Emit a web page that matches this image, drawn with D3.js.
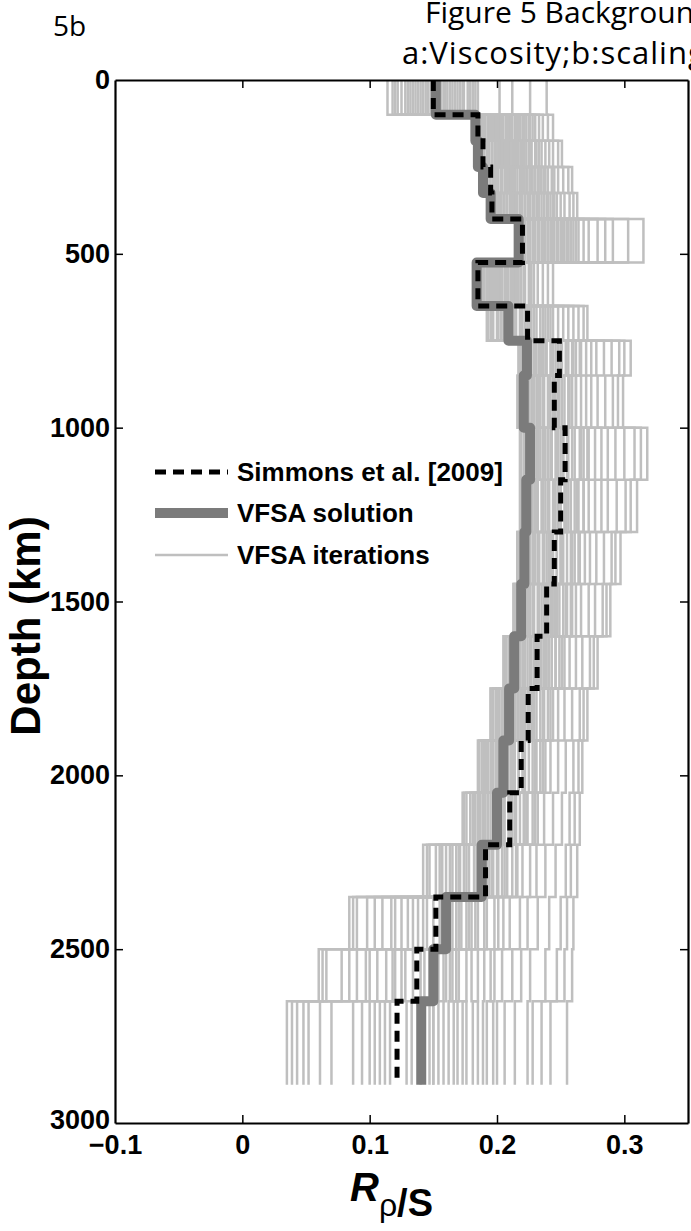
<!DOCTYPE html>
<html>
<head>
<meta charset="utf-8">
<script src="https://cdn.jsdelivr.net/npm/d3@7"></script>
<style>
  body { margin: 0; background: #fff; }
  svg { display: block; }
</style>
</head>
<body>
<div id="chart"></div>
<script>
// layer boundaries in km (22 layers)
var depthEdges = [0, 100, 175, 250, 325, 400, 525, 650, 750, 850, 1000, 1150, 1300,
                  1450, 1600, 1750, 1900, 2050, 2200, 2350, 2500, 2650, 2890];

// Simmons et al. [2009], one value per layer
var simmons = [0.150, 0.185, 0.189, 0.195, 0.196, 0.220, 0.185, 0.224, 0.249, 0.245, 0.2535,
               0.250, 0.245, 0.239, 0.2315, 0.2245, 0.219, 0.210, 0.191, 0.152, 0.137, 0.1215];

// VFSA solution
var vfsaSolution = [0.152, 0.183, 0.185, 0.189, 0.195, 0.217, 0.184, 0.209, 0.2235, 0.221, 0.226,
                    0.223, 0.2215, 0.219, 0.2135, 0.2095, 0.205, 0.200, 0.188, 0.160, 0.150, 0.1405];

// VFSA iterations: row = layer, column = iteration
var vfsaIterations = [
  [0.152,0.122,0.185,0.140,0.165,0.226,0.132,0.174,0.148,0.118,0.202,0.161,0.136,0.179,0.156,0.144,0.239,0.169,0.128,0.177,0.114,0.163,0.212,0.138,0.181,0.153,0.146,0.171,0.158,0.167,0.125,0.142,0.150,0.159,0.134,0.173,0.120,0.155,0.183,0.130],
  [0.205,0.191,0.230,0.198,0.214,0.244,0.188,0.220,0.202,0.195,0.236,0.210,0.193,0.226,0.207,0.199,0.240,0.217,0.190,0.223,0.187,0.212,0.233,0.196,0.228,0.203,0.200,0.218,0.209,0.215,0.194,0.201,0.208,0.216,0.221,0.197,0.204,0.211,0.189,0.225],
  [0.210,0.194,0.238,0.203,0.220,0.251,0.190,0.227,0.207,0.199,0.244,0.215,0.196,0.233,0.212,0.204,0.248,0.223,0.192,0.230,0.189,0.217,0.241,0.201,0.235,0.209,0.205,0.225,0.213,0.219,0.198,0.206,0.214,0.221,0.227,0.202,0.208,0.216,0.193,0.231],
  [0.216,0.199,0.245,0.208,0.226,0.259,0.195,0.234,0.212,0.204,0.252,0.221,0.201,0.240,0.218,0.210,0.256,0.230,0.197,0.237,0.194,0.223,0.248,0.206,0.243,0.214,0.209,0.232,0.219,0.227,0.203,0.211,0.220,0.228,0.235,0.207,0.213,0.224,0.198,0.238],
  [0.220,0.203,0.250,0.212,0.231,0.263,0.199,0.239,0.216,0.208,0.257,0.226,0.205,0.244,0.222,0.214,0.260,0.235,0.201,0.242,0.198,0.228,0.253,0.210,0.247,0.218,0.213,0.237,0.224,0.232,0.206,0.215,0.225,0.233,0.240,0.211,0.219,0.229,0.202,0.245],
  [0.245,0.226,0.291,0.235,0.256,0.315,0.221,0.268,0.240,0.230,0.303,0.250,0.228,0.279,0.247,0.238,0.260,0.253,0.224,0.264,0.222,0.243,0.285,0.233,0.272,0.242,0.237,0.258,0.248,0.252,0.229,0.236,0.244,0.251,0.258,0.232,0.240,0.255,0.225,0.262],
  [0.203,0.190,0.229,0.197,0.213,0.244,0.187,0.219,0.200,0.194,0.236,0.209,0.192,0.225,0.206,0.198,0.240,0.216,0.189,0.222,0.188,0.211,0.232,0.195,0.227,0.202,0.199,0.217,0.207,0.214,0.193,0.201,0.208,0.215,0.221,0.196,0.204,0.212,0.190,0.226],
  [0.218,0.197,0.256,0.207,0.229,0.271,0.193,0.240,0.212,0.203,0.264,0.224,0.200,0.248,0.220,0.209,0.268,0.234,0.195,0.244,0.192,0.226,0.260,0.205,0.252,0.215,0.211,0.238,0.222,0.231,0.201,0.210,0.219,0.227,0.236,0.206,0.214,0.224,0.196,0.242],
  [0.242,0.221,0.284,0.231,0.254,0.305,0.217,0.266,0.236,0.227,0.296,0.248,0.224,0.274,0.244,0.233,0.300,0.259,0.219,0.270,0.217,0.250,0.290,0.229,0.278,0.239,0.235,0.262,0.246,0.256,0.226,0.234,0.243,0.251,0.260,0.230,0.238,0.248,0.222,0.265],
  [0.240,0.220,0.279,0.229,0.251,0.299,0.216,0.262,0.234,0.225,0.291,0.245,0.222,0.270,0.242,0.231,0.295,0.256,0.218,0.266,0.217,0.248,0.285,0.227,0.274,0.237,0.233,0.259,0.244,0.253,0.224,0.232,0.241,0.249,0.257,0.228,0.236,0.246,0.220,0.262],
  [0.246,0.223,0.293,0.234,0.259,0.318,0.219,0.272,0.240,0.229,0.308,0.252,0.226,0.282,0.248,0.236,0.313,0.265,0.221,0.277,0.218,0.255,0.300,0.231,0.287,0.243,0.238,0.268,0.250,0.261,0.228,0.237,0.247,0.256,0.266,0.232,0.242,0.252,0.224,0.271],
  [0.244,0.222,0.287,0.232,0.256,0.310,0.219,0.268,0.238,0.228,0.301,0.250,0.225,0.277,0.246,0.235,0.305,0.261,0.220,0.272,0.218,0.253,0.294,0.230,0.282,0.241,0.236,0.264,0.248,0.258,0.227,0.236,0.245,0.254,0.263,0.231,0.240,0.250,0.223,0.268],
  [0.239,0.219,0.278,0.228,0.250,0.297,0.216,0.261,0.233,0.224,0.290,0.244,0.221,0.269,0.241,0.230,0.293,0.255,0.217,0.265,0.216,0.247,0.284,0.226,0.273,0.236,0.232,0.258,0.243,0.252,0.225,0.233,0.242,0.250,0.259,0.229,0.237,0.247,0.221,0.264],
  [0.235,0.216,0.272,0.224,0.245,0.289,0.213,0.255,0.229,0.220,0.283,0.239,0.218,0.262,0.237,0.226,0.286,0.249,0.214,0.258,0.213,0.242,0.277,0.222,0.266,0.232,0.228,0.252,0.240,0.247,0.221,0.229,0.238,0.246,0.254,0.225,0.233,0.243,0.217,0.259],
  [0.227,0.209,0.262,0.216,0.237,0.279,0.206,0.246,0.221,0.212,0.273,0.231,0.210,0.253,0.229,0.218,0.276,0.241,0.207,0.249,0.205,0.234,0.267,0.214,0.257,0.224,0.220,0.243,0.232,0.239,0.215,0.222,0.230,0.238,0.246,0.218,0.226,0.235,0.211,0.251],
  [0.217,0.199,0.253,0.206,0.227,0.271,0.195,0.237,0.211,0.202,0.265,0.221,0.200,0.244,0.219,0.208,0.268,0.231,0.197,0.240,0.195,0.224,0.259,0.204,0.248,0.214,0.210,0.234,0.222,0.229,0.205,0.212,0.220,0.228,0.236,0.209,0.216,0.225,0.201,0.242],
  [0.209,0.190,0.248,0.197,0.220,0.267,0.186,0.231,0.203,0.193,0.260,0.214,0.191,0.238,0.211,0.199,0.264,0.225,0.188,0.234,0.185,0.217,0.254,0.195,0.242,0.206,0.201,0.228,0.212,0.222,0.196,0.204,0.213,0.221,0.230,0.200,0.208,0.217,0.192,0.236],
  [0.200,0.179,0.244,0.187,0.212,0.265,0.174,0.224,0.193,0.183,0.257,0.206,0.181,0.232,0.202,0.189,0.261,0.218,0.176,0.228,0.173,0.209,0.251,0.185,0.237,0.197,0.191,0.221,0.204,0.215,0.186,0.195,0.205,0.214,0.223,0.190,0.199,0.210,0.182,0.230],
  [0.188,0.152,0.238,0.165,0.200,0.263,0.142,0.215,0.178,0.160,0.254,0.194,0.157,0.226,0.190,0.170,0.258,0.208,0.147,0.220,0.145,0.197,0.246,0.168,0.231,0.184,0.174,0.212,0.192,0.204,0.163,0.176,0.186,0.196,0.206,0.171,0.182,0.201,0.155,0.216],
  [0.165,0.098,0.232,0.120,0.180,0.260,0.084,0.205,0.145,0.110,0.250,0.172,0.104,0.218,0.168,0.130,0.255,0.192,0.090,0.210,0.087,0.176,0.241,0.125,0.224,0.155,0.138,0.198,0.170,0.185,0.134,0.150,0.162,0.178,0.190,0.142,0.158,0.183,0.117,0.201],
  [0.150,0.078,0.226,0.100,0.170,0.259,0.060,0.198,0.128,0.090,0.247,0.160,0.084,0.212,0.154,0.113,0.253,0.185,0.066,0.204,0.063,0.165,0.238,0.106,0.219,0.140,0.120,0.190,0.158,0.176,0.118,0.134,0.148,0.163,0.180,0.125,0.143,0.168,0.097,0.195],
  [0.150,0.039,0.224,0.087,0.166,0.255,0.035,0.192,0.116,0.052,0.242,0.158,0.048,0.206,0.147,0.100,0.235,0.181,0.043,0.200,0.061,0.162,0.228,0.094,0.214,0.129,0.108,0.189,0.154,0.173,0.112,0.133,0.150,0.169,0.185,0.104,0.140,0.176,0.070,0.197]
];

var xTicks = [-0.1, 0, 0.1, 0.2, 0.3];
var yTicks = [0, 500, 1000, 1500, 2000, 2500, 3000];
var legendLabels = ["Simmons et al. [2009]", "VFSA solution", "VFSA iterations"];

var width = 691, height = 1231;
var margin = {top: 80, right: 3, bottom: 108, left: 115};

var svg = d3.select("#chart").append("svg")
    .attr("width", width)
    .attr("height", height);

var x = d3.scaleLinear().domain([-0.1, 0.35]).range([margin.left, width - margin.right]);
var y = d3.scaleLinear().domain([0, 3000]).range([margin.top, height - margin.bottom]);

// turn one value per layer into a stair profile
function stairs(values) {
  var pts = [];
  values.forEach(function(v, i) {
    pts.push([v, depthEdges[i]]);
    pts.push([v, depthEdges[i + 1]]);
  });
  return pts;
}

var line = d3.line()
    .x(function(d) { return x(d[0]); })
    .y(function(d) { return y(d[1]); });

// header texts (cut by the right edge, as in the original)
var headFont = "'Open Sans', 'Noto Sans', sans-serif";
svg.append("text").attr("x", 53).attr("y", 36)
    .style("font-family", headFont).style("font-size", "28px")
    .text("5b");
svg.append("text").attr("x", 425).attr("y", 23)
    .style("font-family", headFont).style("font-size", "30px")
    .text("Figure 5 Background");
svg.append("text").attr("x", 402).attr("y", 64)
    .style("font-family", headFont).style("font-size", "31px")
    .style("letter-spacing", "1px")
    .text("a:Viscosity;b:scaling");

var plot = svg.append("g");

// iterations
var nIter = vfsaIterations[0].length;
var iterProfiles = d3.range(nIter).map(function(k) {
  return vfsaIterations.map(function(row) { return row[k]; });
});

plot.selectAll(".iter")
    .data(iterProfiles)
    .enter().append("path")
    .attr("class", "iter")
    .attr("d", function(d) { return line(stairs(d)); })
    .attr("fill", "none")
    .attr("stroke", "#bfbfbf")
    .attr("stroke-width", 2.5);

plot.append("path")
    .attr("d", line(stairs(vfsaSolution)))
    .attr("fill", "none")
    .attr("stroke", "#7b7b7b")
    .attr("stroke-width", 10)
    .attr("stroke-linejoin", "round");

plot.append("path")
    .attr("d", line(stairs(simmons)))
    .attr("fill", "none")
    .attr("stroke", "#000")
    .attr("stroke-width", 5)
    .attr("stroke-dasharray", "11,7");

// axes (box with inward ticks)
var fmtX = function(d) { return d < 0 ? "\u2212" + Math.abs(d) : String(d); };
var tickFont = "'Liberation Sans', Arial, sans-serif";

var gB = svg.append("g").attr("transform", "translate(0," + (height - margin.bottom) + ")")
    .call(d3.axisBottom(x).tickValues(xTicks).tickSizeInner(-8).tickSizeOuter(0).tickPadding(12).tickFormat(fmtX));
var gT = svg.append("g").attr("transform", "translate(0," + margin.top + ")")
    .call(d3.axisTop(x).tickValues(xTicks).tickSizeInner(-8).tickSizeOuter(0).tickFormat(""));
var gL = svg.append("g").attr("transform", "translate(" + margin.left + ",0)")
    .call(d3.axisLeft(y).tickValues(yTicks).tickSizeInner(-8).tickSizeOuter(0).tickPadding(5).tickFormat(d3.format("d")));
var gR = svg.append("g").attr("transform", "translate(" + (width - margin.right) + ",0)")
    .call(d3.axisRight(y).tickValues(yTicks).tickSizeInner(-8).tickSizeOuter(0).tickFormat(""));

[gB, gT, gL, gR].forEach(function(g) {
  g.select(".domain").attr("stroke", "#000").attr("stroke-width", 2.2);
  g.selectAll(".tick line").attr("stroke", "#000").attr("stroke-width", 1.5);
  g.selectAll(".tick text")
      .attr("fill", "#000")
      .style("font-family", tickFont)
      .style("font-weight", "bold")
      .style("font-size", "27px");
});
gL.selectAll(".tick line").filter(function(d) { return d === 0 || d === 3000; }).remove();
gR.selectAll(".tick line").filter(function(d) { return d === 0 || d === 3000; }).remove();
gB.selectAll(".tick line").filter(function(d) { return d === -0.1; }).remove();
gT.selectAll(".tick line").filter(function(d) { return d === -0.1; }).remove();
gL.selectAll(".tick text").filter(function(d) { return d === 3000; }).attr("dy", "0.2em");

// axis titles
svg.append("text")
    .attr("transform", "translate(40,626) rotate(-90)")
    .attr("text-anchor", "middle")
    .style("font-family", tickFont)
    .style("font-weight", "bold")
    .style("font-size", "42px")
    .text("Depth (km)");

var xt = svg.append("text")
    .attr("x", 350).attr("y", 1201)
    .style("font-family", tickFont)
    .style("font-size", "40px");
xt.append("tspan").style("font-weight", "bold").style("font-style", "italic").text("R");
xt.append("tspan").attr("dy", 15).style("font-size", "32px").text("\u03c1");
xt.append("tspan").style("font-weight", "bold").style("font-size", "38px").text("/S");

// legend
var legendY = [472, 513, 555];
var legendStyles = [
  {stroke: "#000", width: 5, dash: "11,7"},
  {stroke: "#7b7b7b", width: 10, dash: null},
  {stroke: "#bfbfbf", width: 2.5, dash: null}
];
var leg = svg.append("g").selectAll("g")
    .data(legendLabels)
    .enter().append("g")
    .attr("transform", function(d, i) { return "translate(0," + legendY[i] + ")"; });
leg.append("line")
    .attr("x1", 155).attr("x2", 228)
    .attr("stroke", function(d, i) { return legendStyles[i].stroke; })
    .attr("stroke-width", function(d, i) { return legendStyles[i].width; })
    .attr("stroke-dasharray", function(d, i) { return legendStyles[i].dash; });
leg.append("text")
    .attr("x", 237).attr("y", 9)
    .style("font-family", tickFont)
    .style("font-weight", "bold")
    .style("font-size", "26px")
    .text(function(d) { return d; });
</script>
</body>
</html>
